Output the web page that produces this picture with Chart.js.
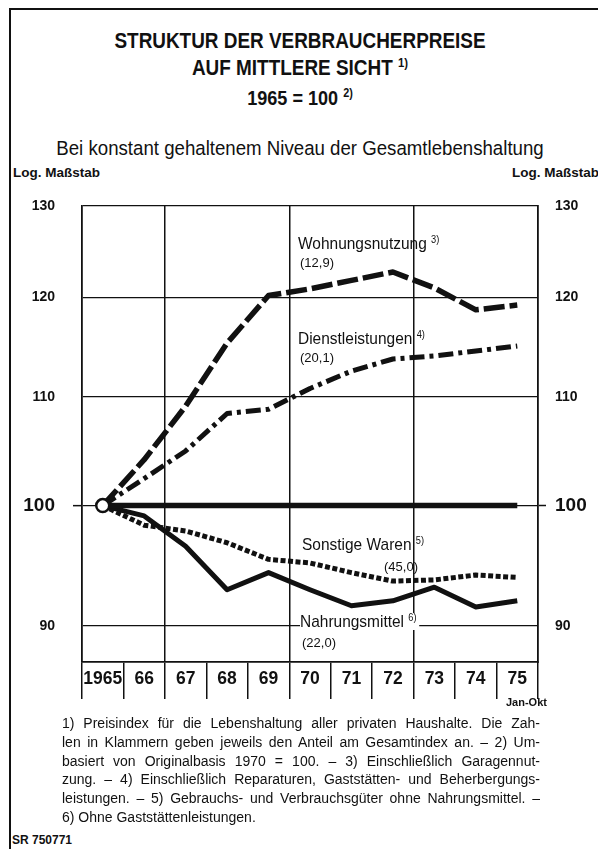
<!DOCTYPE html>
<html lang="de">
<head>
<meta charset="utf-8">
<title>Struktur der Verbraucherpreise</title>
<script src="https://cdn.jsdelivr.net/npm/chart.js@4.4.1/dist/chart.umd.min.js"></script>
<style>
  html, body { margin: 0; padding: 0; background: #fff; }
  #page {
    position: relative; width: 598px; height: 849px; overflow: hidden; background: #fff;
    font-family: "Liberation Sans", Arial, sans-serif;
    color: #111;
  }
  #frame { position: absolute; left: 9px; top: 8px; width: 600px; height: 860px;
           border-left: 2px solid #111; border-top: 2px solid #111; }
  .t { position: absolute; white-space: nowrap; line-height: 1; }
  .c { left: 0; width: 600px; text-align: center; transform-origin: 300px 0; }
  .title { font-weight: bold; font-size: 22px; transform: scaleX(0.86); }
  sup { font-size: 0.6em; vertical-align: 0.6em; line-height: 0; }
  .lbl { font-size: 17px; transform: scaleX(0.91); transform-origin: 0 0; }
  .sub { font-size: 13px; }
  .bg { background: #fff; padding-right: 3px; }
  #foot { position: absolute; left: 62px; top: 714px; width: 478px; font-size: 14px; line-height: 18.8px; }
  #foot div { text-align: justify; text-align-last: justify; white-space: nowrap; }
  #foot div.last { text-align-last: left; }
  #chartBox { position: absolute; left: 0; top: 160px; width: 598px; height: 545px; }
</style>
</head>
<body>
<div id="page">
  <div id="frame"></div>

  <div class="t c title" style="top:30px;">STRUKTUR DER VERBRAUCHERPREISE</div>
  <div class="t c title" style="top:57px;">AUF MITTLERE SICHT <sup>1)</sup></div>
  <div class="t c title" style="top:87px; font-size:21px;">1965 = 100 <sup>2)</sup></div>
  <div class="t c" style="top:138px; font-size:20.5px; transform: scaleX(0.91);">Bei konstant gehaltenem Niveau der Gesamtlebenshaltung</div>
  <div class="t" style="left:13px; top:166px; font-size:13.5px; font-weight:bold;">Log. Maßstab</div>
  <div class="t" style="left:512px; top:166px; font-size:13.5px; font-weight:bold;">Log. Maßstab</div>

  <div id="chartBox"><canvas id="chart" width="598" height="545"></canvas></div>

  <div class="t lbl" style="left:298px; top:235px;">Wohnungsnutzung <sup>3)</sup></div>
  <div class="t sub" style="left:300px; top:256px;">(12,9)</div>
  <div class="t lbl" style="left:298px; top:330px;">Dienstleistungen <sup>4)</sup></div>
  <div class="t sub" style="left:300px; top:351px;">(20,1)</div>
  <div class="t lbl" style="left:302px; top:536px;">Sonstige Waren <sup>5)</sup></div>
  <div class="t sub" style="left:384px; top:560px;">(45,0)</div>
  <div class="t lbl bg" style="left:300px; top:613px;">Nahrungsmittel <sup>6)</sup></div>
  <div class="t sub" style="left:302px; top:636px;">(22,0)</div>

  <div class="t" style="left:506px; top:697px; font-size:11px; font-weight:bold;">Jan-Okt</div>

  <div id="foot">
    <div>1) Preisindex für die Lebenshaltung aller privaten Haushalte. Die Zah-</div>
    <div>len in Klammern geben jeweils den Anteil am Gesamtindex an. – 2) Um-</div>
    <div>basiert von Originalbasis 1970 = 100. – 3) Einschließlich Garagennut-</div>
    <div>zung. – 4) Einschließlich Reparaturen, Gaststätten- und Beherbergungs-</div>
    <div>leistungen. – 5) Gebrauchs- und Verbrauchsgüter ohne Nahrungsmittel. –</div>
    <div class="last">6) Ohne Gaststättenleistungen.</div>
  </div>
  <div class="t" style="left:12px; top:834px; font-size:12px; font-weight:bold;">SR 750771</div>
</div>

<script>
// Jahre (1975: Jan-Okt)
const years = ["1965", "66", "67", "68", "69", "70", "71", "72", "73", "74", "75"];

// Indexwerte, 1965 = 100, relativ zur Gesamtlebenshaltung
const gesamt    = [100, 100, 100, 100, 100, 100, 100, 100, 100, 100, 100];
const wohnung   = [100, 104.1, 109.1, 115.3, 120.2, 120.9, 121.8, 122.7, 121.0, 118.7, 119.2];
const dienst    = [100, 102.4, 104.9, 108.4, 108.8, 110.8, 112.5, 113.7, 114.0, 114.5, 115.0];
const sonstige  = [100, 98.3, 97.8, 96.8, 95.4, 95.1, 94.3, 93.6, 93.7, 94.1, 93.9];
const nahrung   = [100, 99.1, 96.5, 92.9, 94.3, 92.9, 91.6, 92.0, 93.1, 91.5, 92.0];

// Achse (log. Maßstab)
const yTicks = [90, 100, 110, 120, 130];
const yMin = 87.2;
const yMax = 130;

const INK = "#111";
const FAM = '"Liberation Sans", Arial, sans-serif';

const setTicks = (scale) => { scale.ticks = yTicks.map(v => ({ value: v })); };
const yFont = (ctx) => ctx.tick && ctx.tick.value === 100
  ? { family: FAM, size: 19, weight: "bold" }
  : { family: FAM, size: 14, weight: "bold" };
const tick100 = (ctx) => ctx.tick && ctx.tick.value === 100 ? INK : "transparent";

function line(label, data, width, dash) {
  return {
    label, data,
    borderColor: INK, backgroundColor: INK,
    borderWidth: width, borderDash: dash || [],
    borderCapStyle: "butt", borderJoinStyle: "round",
    pointRadius: 0, tension: 0, fill: false
  };
}

const datasets = [
  Object.assign(line("Gesamtlebenshaltung", gesamt, 5.5), {
    pointRadius: years.map((_, i) => i === 0 ? 6.5 : 0),
    pointBackgroundColor: "#fff", pointBorderColor: INK, pointBorderWidth: 2.5
  }),
  line("Wohnungsnutzung", wohnung, 5.5, [21, 5]),
  line("Dienstleistungen", dienst, 5, [15, 5, 4, 5]),
  line("Sonstige Waren", sonstige, 5, [5, 2.5]),
  line("Nahrungsmittel", nahrung, 5)
];

new Chart(document.getElementById("chart"), {
  type: "line",
  data: { labels: years, datasets },
  options: {
    responsive: false,
    animation: false,
    devicePixelRatio: 1,
    layout: { padding: { top: 46, left: 0, right: 0, bottom: 0 } },
    plugins: { legend: { display: false }, tooltip: { enabled: false }, title: { display: false } },
    scales: {
      x: {
        type: "category",
        offset: true,
        afterFit: (s) => { s.height = 43; },
        grid: {
          offset: true,
          color: (ctx) => [2, 5, 8].includes(ctx.index) ? INK : "transparent",
          lineWidth: 1.5,
          drawTicks: true,
          tickLength: 37,
          tickColor: INK,
          tickWidth: 1.5
        },
        border: { display: true, color: INK, width: 1.8 },
        ticks: {
          color: INK, padding: -30, maxRotation: 0, autoSkip: false,
          font: { family: FAM, size: 17.5, weight: "bold" }
        }
      },
      y: {
        type: "logarithmic",
        position: "left",
        min: yMin, max: yMax,
        afterBuildTicks: setTicks,
        afterFit: (s) => { s.width = 82; },
        grid: { color: INK, lineWidth: 1.3, drawTicks: true, tickLength: 9, tickColor: tick100, tickWidth: 1.5 },
        border: { display: true, color: INK, width: 1.8 },
        ticks: { color: INK, padding: 18, font: yFont, callback: (v) => String(v) }
      },
      y2: {
        type: "logarithmic",
        position: "right",
        min: yMin, max: yMax,
        afterBuildTicks: setTicks,
        afterFit: (s) => { s.width = 60; },
        grid: { drawOnChartArea: false, drawTicks: true, tickLength: 8, tickColor: tick100, tickWidth: 1.5 },
        border: { display: true, color: INK, width: 1.8 },
        ticks: { color: INK, padding: 9, font: yFont, callback: (v) => String(v) }
      }
    }
  }
});
</script>
</body>
</html>
